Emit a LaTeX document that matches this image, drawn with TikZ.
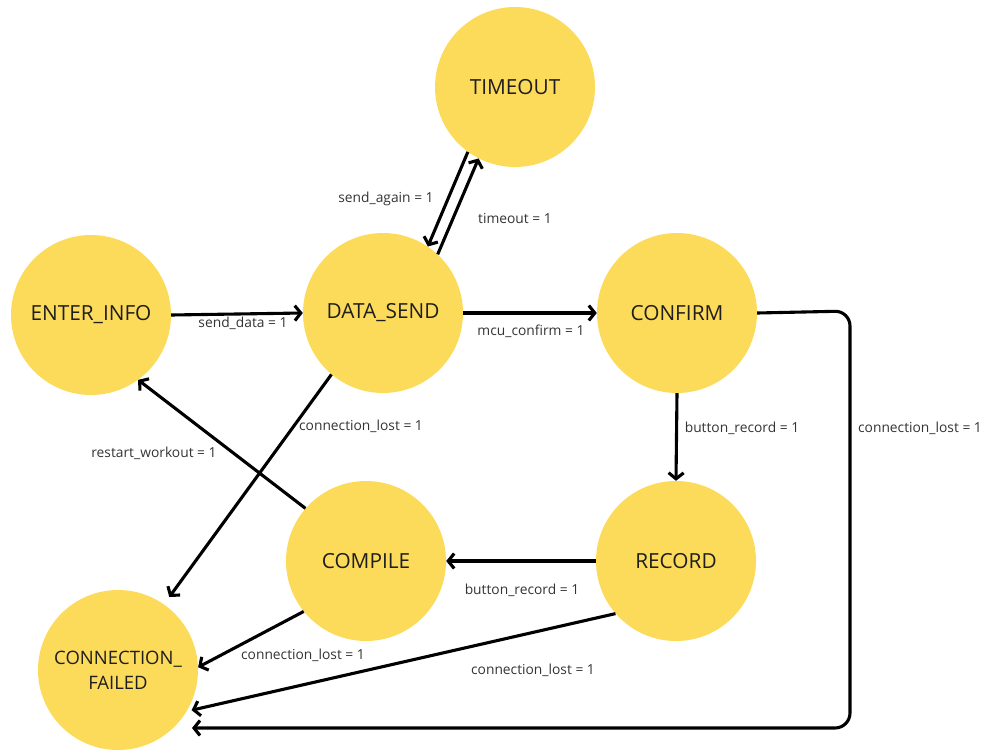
\documentclass[tikz,border=0pt]{standalone}
\usepackage{fontspec}
\setmainfont{Open Sans}
\usetikzlibrary{arrows.meta}
\definecolor{stateyellow}{HTML}{FDDB5A}
\definecolor{inkdark}{HTML}{1E1E1E}
\definecolor{labelgray}{HTML}{333333}
\tikzset{
  state/.style={circle, fill=stateyellow, draw=none, minimum size=160pt,
    inner sep=0pt, align=center, text=inkdark, font=\fontsize{20.8}{25}\selectfont},
  trans/.style={line width=3.1pt, draw=black,
    -{Straight Barb[length=6pt,width=15pt,line width=3.1pt]}},
  cond/.style={text=labelgray, font=\fontsize{13.8}{16}\selectfont, inner sep=0pt}
}
\begin{document}
\begin{tikzpicture}[x=1pt,y=-1pt]
  \useasboundingbox (0,0) rectangle (986,750);

  % states
  \node[state] (timeout)  at (515,87)  {TIMEOUT};
  \node[state] (enter)    at (91,315)  {ENTER\_INFO};
  \node[state] (datasend) at (383,313) {DATA\_SEND};
  \node[state] (confirm)  at (677,313) {CONFIRM};
  \node[state] (compile)  at (366,561) {COMPILE};
  \node[state] (record)   at (676,561) {RECORD};
  \node[state, font=\fontsize{18.5}{23}\selectfont] (failed) at (118,670) {CONNECTION\_\\[2pt]FAILED};

  % return path from CONFIRM around the right side
  \coordinate (turnA) at (850,311);
  \coordinate (turnB) at (850,728);
  \coordinate (failedIn) at (192,728);

  % transitions
  \draw[trans] (enter.east) -- (datasend.west);
  \draw[trans] (datasend.east) -- (confirm.west);
  \draw[trans] (timeout.234) -- (datasend.56);
  \draw[trans] (datasend.47) -- (timeout.243);
  \draw[trans] (confirm.south) -- (record.north);
  \draw[trans] (record.west) -- (compile.east);
  \draw[trans] (compile.139) -- (enter.306);
  \draw[trans, shorten >=9pt] (datasend.230) -- (failed.55);
  \draw[trans] (compile.219) -- (failed.2);
  \draw[trans, shorten >=5pt] (record.221) -- (failed.-31);
  \draw[trans, rounded corners=15pt] (confirm.east) -- (turnA) -- (turnB) -- (failedIn);

  % conditions
  \node[cond] at (243,323) {send\_data = 1};
  \node[cond] at (531,331) {mcu\_confirm = 1};
  \node[cond] at (386,199) {send\_again = 1};
  \node[cond] at (515,218) {timeout = 1};
  \node[cond] at (742,428) {button\_record = 1};
  \node[cond] at (522,590) {button\_record = 1};
  \node[cond] at (154,453) {restart\_workout = 1};
  \node[cond] at (361,426) {connection\_lost = 1};
  \node[cond] at (303,655) {connection\_lost = 1};
  \node[cond] at (533,670) {connection\_lost = 1};
  \node[cond] at (920,428) {connection\_lost = 1};
\end{tikzpicture}
\end{document}
